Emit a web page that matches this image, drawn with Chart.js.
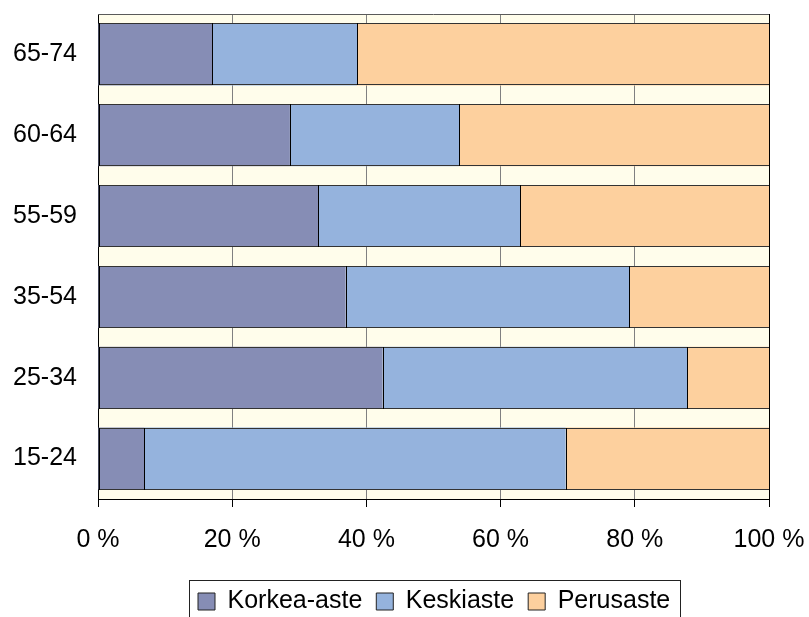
<!DOCTYPE html>
<html>
<head>
<meta charset="utf-8">
<title>Koulutusaste ikäryhmittäin</title>
<script src="https://cdn.jsdelivr.net/npm/chart.js@4/dist/chart.umd.min.js"></script>
<style>
  html, body { margin: 0; padding: 0; background: #ffffff; }
  #wrap { width: 809px; height: 617px; position: relative; }
</style>
</head>
<body>
<div id="wrap"><canvas id="chart" width="809" height="617"></canvas></div>
<script>
// Age groups, listed top to bottom
const ageGroups = ['65-74', '60-64', '55-59', '35-54', '25-34', '15-24'];

// Share of each education level within an age group (%)
const korkeaAste = [17.0, 28.6, 32.8, 36.9, 42.4, 6.9];
const keskiaste  = [21.6, 25.2, 30.1, 42.3, 45.4, 62.8];
const perusaste  = [61.4, 46.2, 37.1, 20.8, 12.2, 30.3];

// Value axis ticks
const xTicks = [0, 20, 40, 60, 80, 100];

const FONT = "'Liberation Sans', Arial, Helvetica, sans-serif";
Chart.defaults.font.family = FONT;
Chart.defaults.font.size = 25;
Chart.defaults.color = '#000000';

// Pale plot background, crisp bar outlines, and the top/right frame edges
const plotFrame = {
  id: 'plotFrame',
  beforeDraw(chart) {
    const { ctx, chartArea: a } = chart;
    ctx.save();
    ctx.fillStyle = '#ffffff';
    ctx.fillRect(0, 0, chart.width, chart.height);
    ctx.fillStyle = '#fffdeb';
    ctx.fillRect(a.left, a.top, a.right - a.left, a.bottom - a.top);
    ctx.restore();
  },
  afterDatasetsDraw(chart) {
    const { ctx, chartArea: a } = chart;
    ctx.save();
    ctx.lineWidth = 1;
    // outline every bar on whole pixels so the edges stay sharp
    chart.data.datasets.forEach((ds, i) => {
      const meta = chart.getDatasetMeta(i);
      if (meta.hidden) return;
      meta.data.forEach(bar => {
        const p = bar.getProps(['x', 'y', 'base', 'height'], true);
        const x0 = Math.round(Math.min(p.base, p.x));
        const x1 = Math.round(Math.max(p.base, p.x));
        const y0 = Math.round(p.y - p.height / 2);
        const y1 = Math.round(p.y + p.height / 2);
        ctx.strokeStyle = '#333333';
        ctx.beginPath();
        ctx.moveTo(x0, y0 + 0.5); ctx.lineTo(x1, y0 + 0.5);
        ctx.moveTo(x0, y1 - 0.5); ctx.lineTo(x1, y1 - 0.5);
        ctx.stroke();
        ctx.strokeStyle = '#000000';
        ctx.beginPath();
        ctx.moveTo(x0 + 0.5, y0); ctx.lineTo(x0 + 0.5, y1);
        ctx.moveTo(x1 + 0.5, y0); ctx.lineTo(x1 + 0.5, y1);
        ctx.stroke();
      });
    });
    ctx.strokeStyle = '#5a5a5a';
    ctx.beginPath();
    ctx.moveTo(a.left, Math.round(a.top) + 0.5);
    ctx.lineTo(a.right, Math.round(a.top) + 0.5);
    ctx.stroke();
    ctx.strokeStyle = '#000000';
    ctx.beginPath();
    ctx.moveTo(Math.round(a.right) + 0.5, a.top);
    ctx.lineTo(Math.round(a.right) + 0.5, a.bottom);
    ctx.stroke();
    ctx.restore();
  }
};

// Places the legend under the plot and draws a frame around it
const legendFrame = {
  id: 'legendFrame',
  afterLayout(chart) {
    const lg = chart.legend;
    if (!lg) return;
    const h = lg.height;
    lg.left = 184;
    lg.top = 575;
    lg.bottom = lg.top + h;
  },
  afterDraw(chart) {
    const lg = chart.legend;
    if (!lg || !lg.legendHitBoxes || !lg.legendHitBoxes.length) return;
    const boxes = lg.legendHitBoxes;
    const first = boxes[0];
    const last = boxes[boxes.length - 1];
    const x0 = Math.round(first.left) - 9;
    const x1 = Math.round(last.left + last.width) + 10;
    const y0 = 580;
    const { ctx } = chart;
    ctx.save();
    ctx.strokeStyle = '#222222';
    ctx.lineWidth = 1;
    ctx.strokeRect(x0 + 0.5, y0 + 0.5, x1 - x0, 60);
    ctx.restore();
  }
};

// Scales keep no extra label padding; the layout padding alone sets the plot box
function noScalePadding(scale) {
  scale.paddingLeft = 0;
  scale.paddingRight = 0;
  scale.paddingTop = 0;
  scale.paddingBottom = 0;
}

const barStyle = {
  borderWidth: 0,
  barPercentage: 1.0,
  categoryPercentage: 0.767
};

new Chart(document.getElementById('chart'), {
  type: 'bar',
  data: {
    labels: ageGroups,
    datasets: [
      Object.assign({ label: 'Korkea-aste', data: korkeaAste, backgroundColor: '#868db5' }, barStyle),
      Object.assign({ label: 'Keskiaste', data: keskiaste, backgroundColor: '#95b3dd' }, barStyle),
      Object.assign({ label: 'Perusaste', data: perusaste, backgroundColor: '#fdd09e' }, barStyle)
    ]
  },
  options: {
    indexAxis: 'y',
    responsive: false,
    animation: false,
    layout: { padding: { left: 0, right: 40, top: 14, bottom: 0 } },
    scales: {
      x: {
        stacked: true,
        min: 0,
        max: 100,
        afterBuildTicks(scale) {
          scale.ticks = xTicks.map(v => ({ value: v }));
        },
        afterFit(scale) {
          scale.height = 69;
          noScalePadding(scale);
        },
        ticks: {
          callback: v => v + ' %',
          padding: 18,
          maxRotation: 0,
          font: { size: 25 }
        },
        grid: {
          display: true,
          drawOnChartArea: true,
          drawTicks: true,
          tickLength: 8,
          lineWidth: 1,
          color: ctx => (ctx.tick && ctx.tick.value === 100 ? '#000000' : '#808080'),
          tickColor: '#000000'
        },
        border: { display: true, color: '#000000', width: 1 }
      },
      y: {
        stacked: true,
        afterFit(scale) {
          scale.width = 98;
          noScalePadding(scale);
        },
        ticks: { padding: 21, font: { size: 25 } },
        grid: { display: false, drawTicks: false },
        border: { display: true, color: '#000000', width: 1 }
      }
    },
    plugins: {
      legend: {
        display: true,
        position: 'bottom',
        align: 'start',
        labels: {
          boxWidth: 17,
          boxHeight: 17,
          padding: 14,
          color: '#000000',
          font: { size: 25 },
          generateLabels(chart) {
            const items = Chart.defaults.plugins.legend.labels.generateLabels(chart);
            items.forEach(it => { it.lineWidth = 1; it.strokeStyle = '#222222'; });
            return items;
          }
        }
      },
      tooltip: { enabled: false },
      title: { display: false }
    }
  },
  plugins: [plotFrame, legendFrame]
});
</script>
</body>
</html>
